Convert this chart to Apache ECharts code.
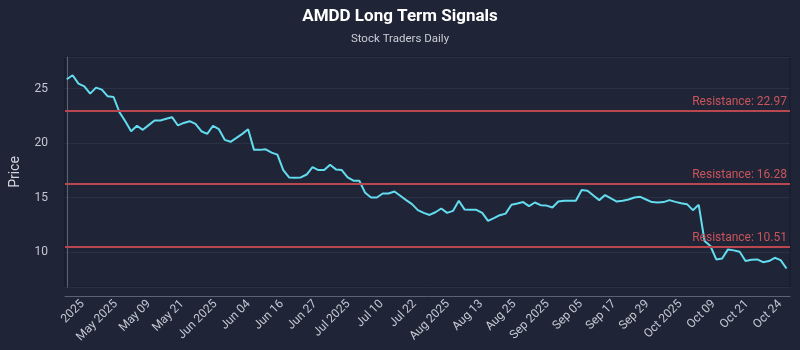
<!DOCTYPE html>
<html>
<head>
<meta charset="utf-8">
<script src="https://cdn.jsdelivr.net/npm/echarts@6/dist/echarts.min.js"></script>
<style>
  html, body { margin: 0; padding: 0; background: #1f2536; }
  #chart { width: 800px; height: 350px; }
</style>
</head>
<body>
<div id="chart"></div>
<script>
// daily closes, one per trading session
const prices = [
  25.86, 26.23, 25.46, 25.21, 24.54, 25.09, 24.91, 24.29, 24.23, 22.84,
  22.01, 21.09, 21.59, 21.22, 21.65, 22.08, 22.08, 22.23, 22.38, 21.62,
  21.85, 22.01, 21.77, 21.09, 20.85, 21.59, 21.28, 20.30, 20.12, 20.48,
  20.85, 21.28, 19.38, 19.38, 19.43, 19.13, 18.94, 17.53, 16.85, 16.82,
  16.85, 17.12, 17.80, 17.53, 17.53, 18.02, 17.59, 17.53, 16.85, 16.55,
  16.55, 15.44, 15.01, 15.01, 15.38, 15.38, 15.56, 15.17, 14.77, 14.40,
  13.85, 13.60, 13.41, 13.66, 14.00, 13.60, 13.78, 14.71, 13.90, 13.88,
  13.88, 13.60, 12.86, 13.11, 13.39, 13.53, 14.34, 14.46, 14.59, 14.22,
  14.55, 14.31, 14.27, 14.09, 14.64, 14.71, 14.71, 14.71, 15.69, 15.63,
  15.19, 14.77, 15.23, 14.92, 14.64, 14.71, 14.83, 15.01, 15.07, 14.83,
  14.59, 14.55, 14.59, 14.77, 14.61, 14.49, 14.40, 13.85, 14.34, 11.02,
  10.56, 9.33, 9.42, 10.25, 10.16, 10.03, 9.18, 9.30, 9.33, 9.08,
  9.18, 9.48, 9.27, 8.50
];

const tickLabels = [
  '2025', 'May 2025', 'May 09', 'May 21', 'Jun 2025', 'Jun 04', 'Jun 16',
  'Jun 27', 'Jul 2025', 'Jul 10', 'Jul 22', 'Aug 2025', 'Aug 13', 'Aug 25',
  'Sep 2025', 'Sep 05', 'Sep 17', 'Sep 29', 'Oct 2025', 'Oct 09', 'Oct 21',
  'Oct 24'
];

const resistance = [22.97, 16.28, 10.51];

// where the date ticks sit, in session units
const tickStart = 2.7;
const tickStep = 5.677;
const tickValues = tickLabels.map((_, j) => tickStart + j * tickStep);

const chart = echarts.init(document.getElementById('chart'));
const font = 'Roboto, "Noto Sans", sans-serif';

chart.setOption({
  backgroundColor: '#1f2536',
  animation: false,
  textStyle: { fontFamily: font },
  title: {
    text: 'AMDD Long Term Signals',
    subtext: 'Stock Traders Daily',
    left: 'center',
    top: 3,
    itemGap: 8,
    textStyle: { color: '#ffffff', fontSize: 17, fontWeight: 'bold', fontFamily: font },
    subtextStyle: { color: '#c9ced8', fontSize: 11.5, fontFamily: font }
  },
  grid: {
    left: 60,
    right: 10,
    top: 57,
    bottom: 63,
    show: true,
    backgroundColor: '#1f2536',
    borderColor: '#151a26',
    borderWidth: 1
  },
  xAxis: {
    type: 'value',
    min: -0.3,
    max: 123.6,
    offset: 9,
    axisLine: { show: true, lineStyle: { color: '#5b6373', width: 1 } },
    axisTick: { show: false },
    splitLine: { show: false },
    axisLabel: {
      customValues: tickValues,
      rotate: 45,
      margin: 6,
      color: '#c3c8d2',
      fontSize: 12,
      formatter: (v) => tickLabels[Math.round((v - tickStart) / tickStep)] || ''
    }
  },
  yAxis: {
    type: 'value',
    min: 6.8,
    max: 27.9,
    offset: 9,
    name: 'Price',
    nameLocation: 'middle',
    nameGap: 34,
    nameTextStyle: { color: '#d0d4dc', fontSize: 14 },
    axisLine: { show: true, lineStyle: { color: '#5b6373', width: 1 } },
    axisTick: { show: false },
    axisLabel: {
      color: '#c3c8d2',
      fontSize: 12,
      margin: 8,
      showMinLabel: false,
      showMaxLabel: false
    },
    splitLine: { show: true, lineStyle: { color: '#2a3142', width: 1 } }
  },
  series: [{
    type: 'line',
    data: prices.map((p, i) => [i, p]),
    showSymbol: false,
    lineStyle: { color: '#62dcee', width: 2 },
    itemStyle: { color: '#62dcee' },
    markLine: {
      silent: true,
      symbol: 'none',
      lineStyle: { color: '#b9474f', width: 2, type: 'solid' },
      label: {
        position: 'insideEndTop',
        distance: 3,
        color: '#c9545c',
        fontSize: 12,
        formatter: (p) => 'Resistance: ' + p.value.toFixed(2)
      },
      data: resistance.map(r => ({ yAxis: r }))
    }
  }]
});
</script>
</body>
</html>
